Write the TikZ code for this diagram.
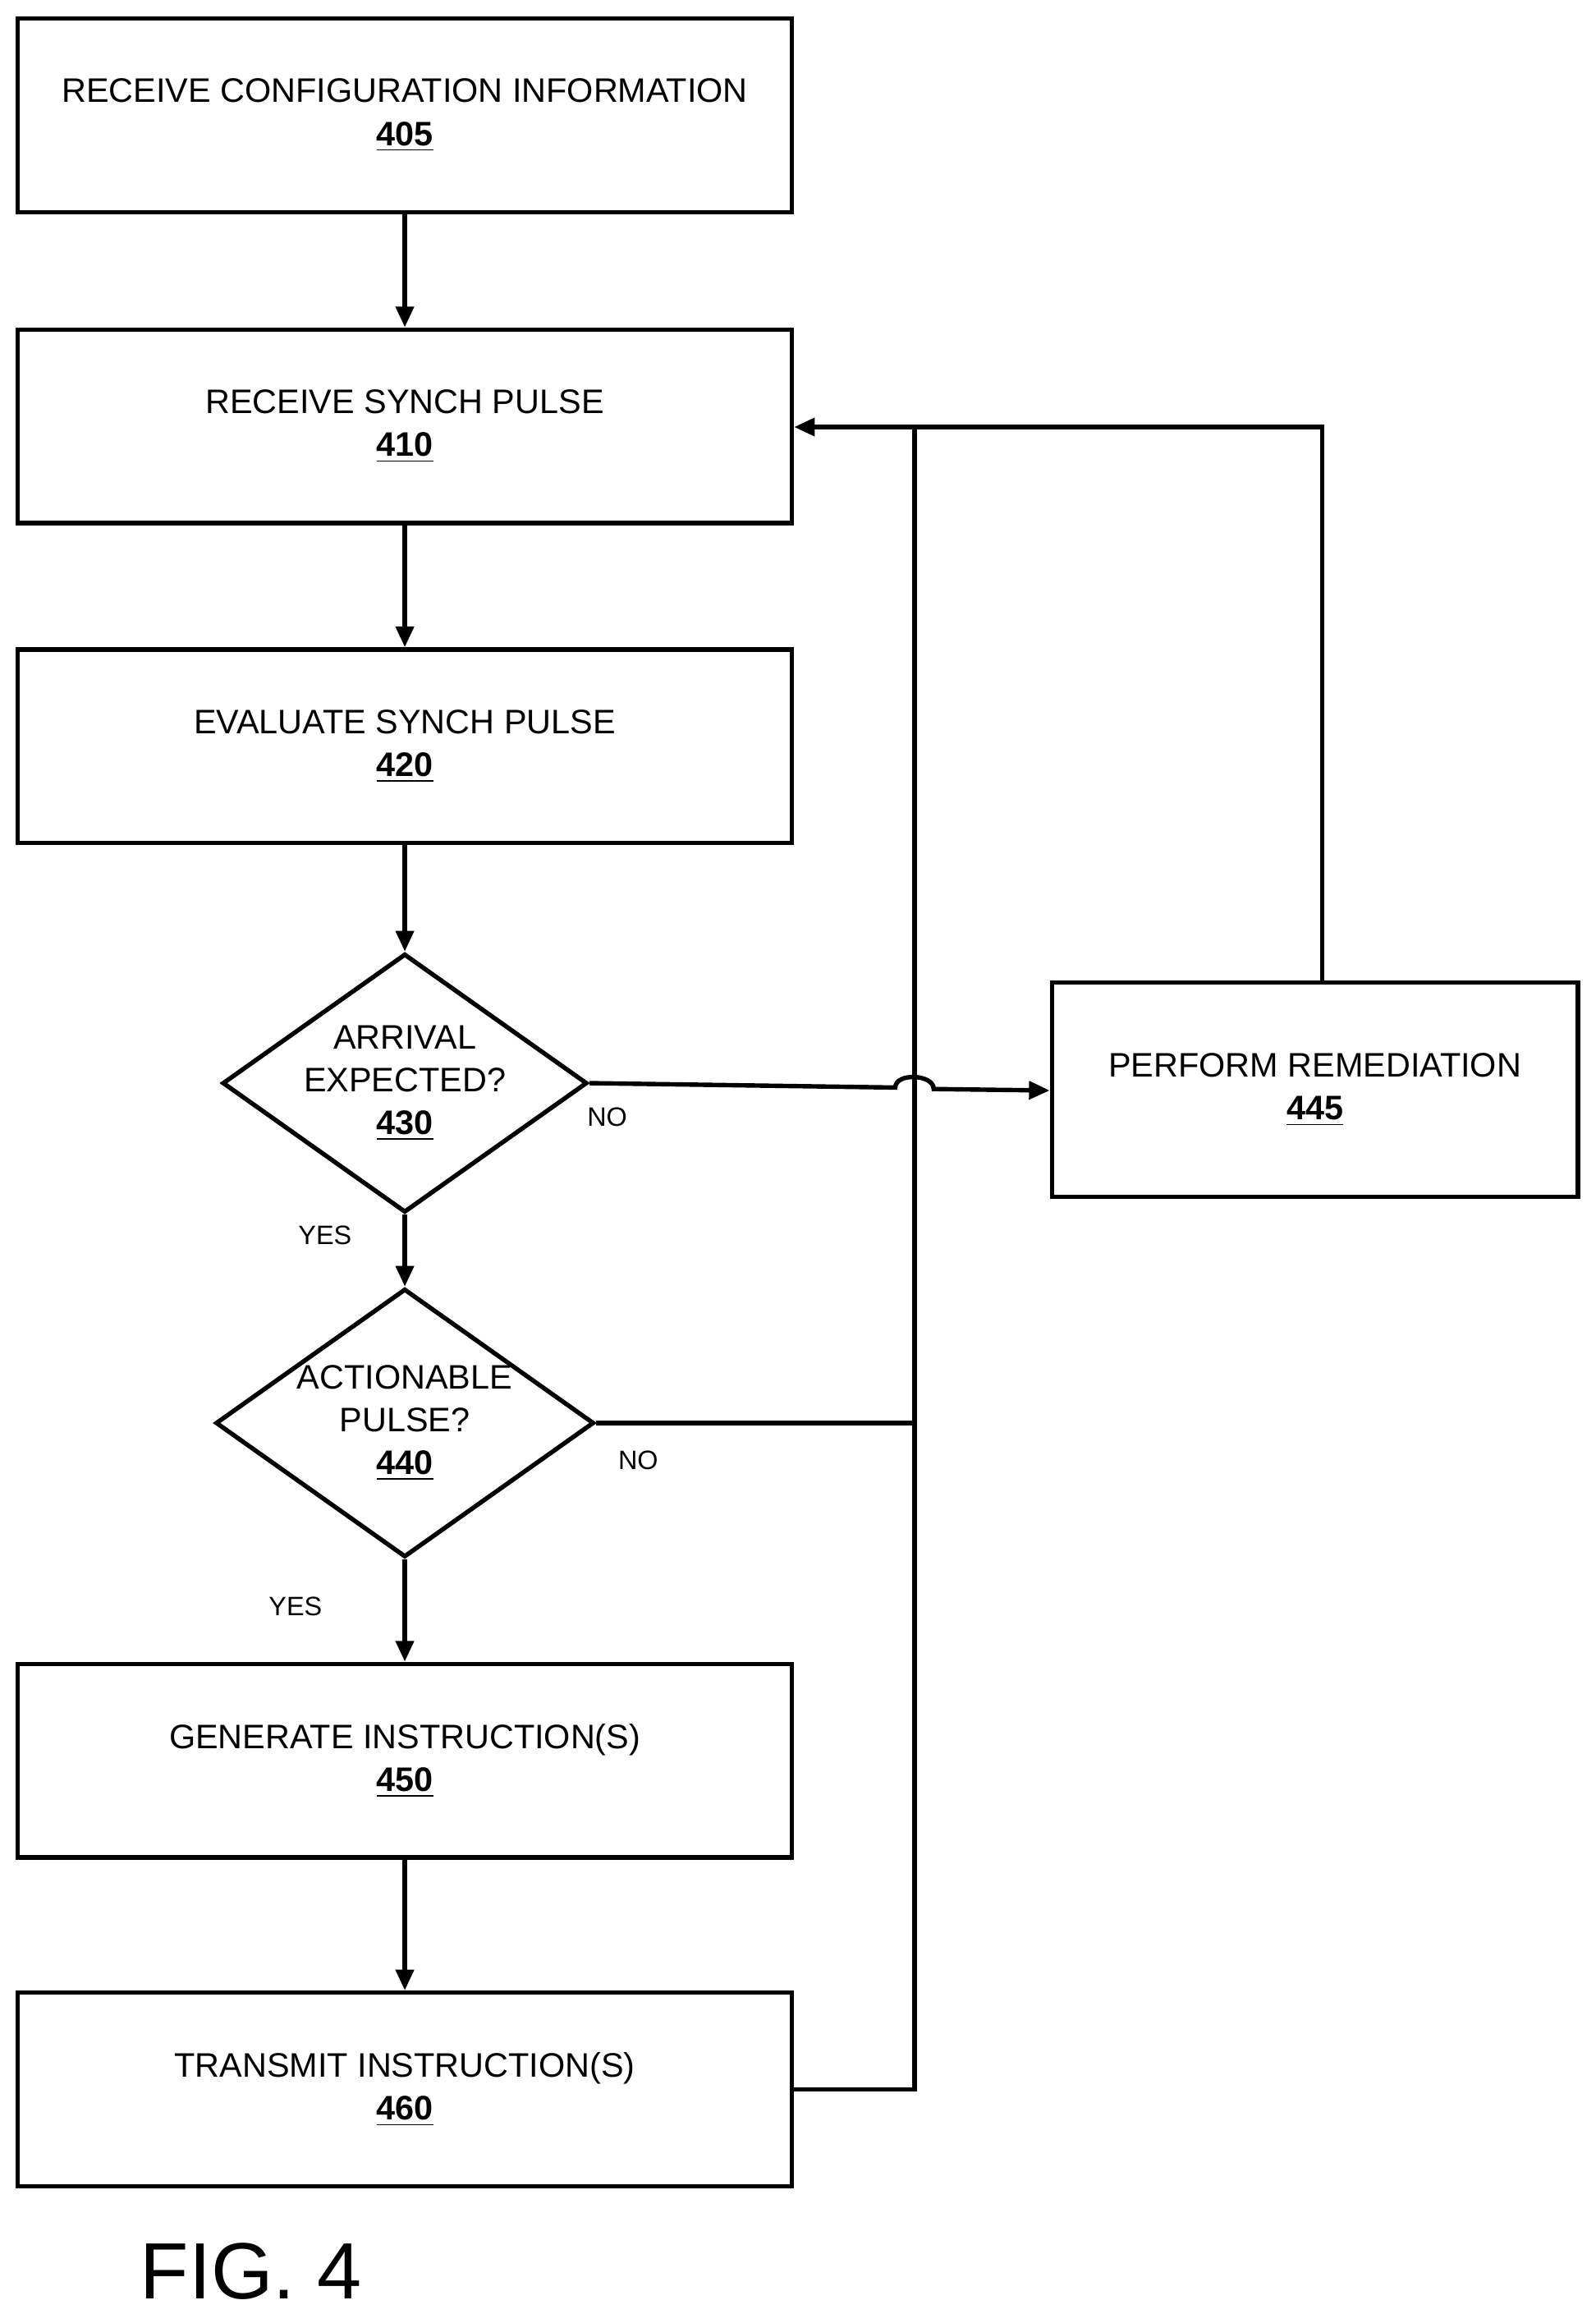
\documentclass[tikz,border=0pt]{standalone}
\usepackage{fontspec}
\setmainfont{Liberation Sans}
\usetikzlibrary{shapes.geometric,arrows.meta}
\begin{document}
\begin{tikzpicture}[x=0.5pt,y=-0.5pt,
  box/.style={draw,line width=1.5pt,minimum width=262pt,minimum height=65.5pt,align=center,font=\fontsize{11.5}{14.5}\selectfont,inner sep=0pt},
  dia/.style={draw,line width=1.5pt,diamond,minimum width=120pt,minimum height=85pt,aspect=1.41,align=center,font=\fontsize{11.5}{14.5}\selectfont,inner sep=0pt},
  ln/.style={line width=1.5pt},
  ar/.style={ln,-{Triangle[length=7pt,width=6pt]}},
  lab/.style={font=\fontsize{9}{10}\selectfont}]
\useasboundingbox (0,0) rectangle (1080,1566);
\node[box] (b405) at (274,78) {RECEIVE CONFIGURATION INFORMATION\\\underline{\textbf{405}}};
\node[box] (b410) at (274,288.5) {RECEIVE SYNCH PULSE\\\underline{\textbf{410}}};
\node[box] (b420) at (274,505) {EVALUATE SYNCH PULSE\\\underline{\textbf{420}}};
\node[dia] (d430) at (274,733) {ARRIVAL\\EXPECTED?\\\underline{\textbf{430}}};
\node[dia] (d440) at (274,963) {ACTIONABLE\\PULSE?\\\underline{\textbf{440}}};
\node[box] (b450) at (274,1191.5) {GENERATE INSTRUCTION(S)\\\underline{\textbf{450}}};
\node[box] (b460) at (274,1414) {TRANSMIT INSTRUCTION(S)\\\underline{\textbf{460}}};
\node[box,minimum width=178pt,minimum height=72.5pt] (b445) at (890,737.5) {PERFORM REMEDIATION\\\underline{\textbf{445}}};
\draw[ar] (b405) -- (b410);
\draw[ar] (b410) -- (b420);
\draw[ar] (b420) -- (d430);
\draw[ar] (d430) -- (d440);
\draw[ar] (d440) -- (b450);
\draw[ar] (b450) -- (b460);
\coordinate (top) at (619,289);
\coordinate (bot) at (619,1414);
\coordinate (mid) at (619,963);
\coordinate (rtop) at (895,289);
\coordinate (j1) at (606,736);
\coordinate (j2) at (632,737);
\draw[ln] (b460.east) -- (bot) -- (top);
\draw[ln] (d440.east) -- (mid);
\draw[ar] (b445.north -| rtop) -- (rtop) -- (b410.east |- top);
\draw[ar] (d430.east) -- (j1) to[out=90,in=90] (j2) -- (b445.west |- 0,738);
\node[lab] (y1) at (220,836) {YES};
\node[lab] (n1) at (411,756) {NO};
\node[lab] (n2) at (432,988) {NO};
\node[lab] (y2) at (200,1087) {YES};
\node[font=\fontsize{27}{30}\selectfont] (fig) at (170,1537) {FIG. 4};
\end{tikzpicture}
\end{document}
